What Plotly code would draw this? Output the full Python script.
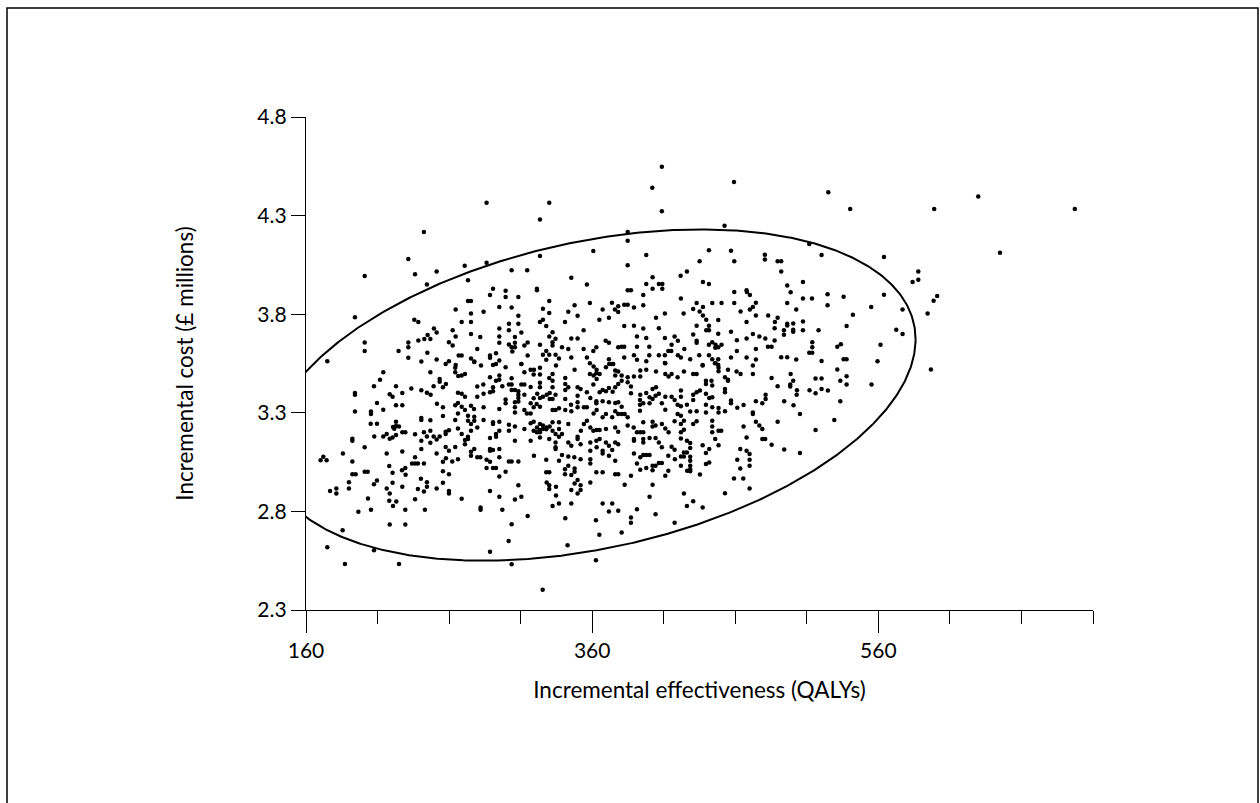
import numpy as np
import plotly.graph_objects as go

# Bootstrap replicates: (incremental effectiveness in QALYs, incremental cost in £ millions)
replicates = [
    [242.4,4.217],[231.5,4.080],[236.2,4.002],[251.3,4.016],[201.0,3.994],[244.5,3.951],[264.6,3.824],[194.2,3.784],
    [235.7,3.772],[238.5,3.760],[249.4,3.728],[251.3,3.707],[245.0,3.694],[242.7,3.674],[246.9,3.674],[238.5,3.667],
    [262.5,3.719],[264.6,3.687],[259.9,3.658],[262.5,3.641],[231.5,3.657],[231.5,3.633],[201.0,3.657],[201.0,3.613],
    [224.7,3.613],[244.8,3.604],[231.5,3.579],[240.6,3.560],[251.3,3.570],[257.6,3.548],[259.9,3.562],[264.6,3.543],
    [266.7,3.591],[174.9,3.562],
    [286.2,4.365],[330.0,4.365],[323.5,4.280],[270.9,4.046],[286.2,4.061],[323.5,4.095],[360.8,4.121],[273.2,3.972],
    [303.7,4.023],[314.6,4.023],[345.4,3.985],[356.3,3.951],[290.7,3.929],[288.6,3.897],[299.5,3.919],[299.5,3.887],
    [308.4,3.887],[321.4,3.929],[321.4,3.921],[273.2,3.867],[275.3,3.867],[330.0,3.867],[347.7,3.845],[358.4,3.857],
    [373.8,3.858],[378.2,3.840],[375.9,3.824],[378.2,3.811],[367.3,3.824],[284.1,3.812],[295.1,3.836],[303.7,3.834],
    [325.6,3.828],[330.0,3.806],[343.3,3.812],[349.8,3.792],[275.3,3.804],[268.8,3.760],[275.3,3.760],[301.8,3.751],
    [308.4,3.792],[308.4,3.751],[323.5,3.760],[325.6,3.772],[327.9,3.740],[341.0,3.760],[365.0,3.772],[371.7,3.782],
    [354.0,3.719],[275.3,3.699],[281.8,3.685],[295.1,3.728],[301.8,3.718],[310.5,3.707],[295.1,3.687],[306.0,3.684],
    [330.0,3.687],[332.3,3.709],[334.4,3.675],[332.3,3.658],[345.4,3.677],[349.8,3.677],[295.1,3.655],[301.8,3.646],
    [306.0,3.655],[303.7,3.633],[306.0,3.633],[314.9,3.657],[312.6,3.641],[323.5,3.645],[332.3,3.641],[338.9,3.633],
    [343.3,3.623],[354.0,3.623],[362.9,3.633],[369.4,3.665],[371.7,3.655],[378.2,3.633],[279.7,3.623],[304.2,3.611],
    [325.6,3.594],[327.9,3.614],[330.0,3.594],[334.4,3.594],[336.8,3.575],[345.4,3.580],[356.3,3.580],[360.8,3.613],
    [288.6,3.591],[288.6,3.579],[292.8,3.602],[295.1,3.565],[275.3,3.575],[277.6,3.560],[314.9,3.591],[327.9,3.569],
    [371.7,3.572],[373.8,3.548],[310.5,3.548],[268.8,3.591],
    [408.7,4.548],[402.0,4.441],[459.1,4.471],[408.7,4.322],[452.5,4.248],[384.8,4.217],[384.8,4.172],[397.8,4.100],
    [441.6,4.124],[457.0,4.122],[480.7,4.102],[480.7,4.077],[489.6,4.068],[384.8,4.048],[435.1,4.068],[459.3,4.068],
    [421.8,3.995],[426.2,4.016],[402.2,3.987],[397.8,3.953],[406.6,3.953],[409.0,3.953],[402.2,3.929],[409.0,3.929],
    [437.4,3.963],[441.6,3.953],[384.8,3.921],[387.1,3.921],[395.7,3.897],[422.0,3.879],[459.3,3.912],[467.9,3.921],
    [468.1,3.912],[470.2,3.897],[382.4,3.848],[384.8,3.848],[389.2,3.834],[395.7,3.846],[433.0,3.857],[437.4,3.836],
    [443.9,3.857],[450.4,3.857],[459.3,3.857],[474.4,3.858],[472.3,3.836],[470.2,3.824],[463.7,3.814],[430.6,3.826],
    [435.1,3.814],[437.4,3.794],[439.7,3.772],[423.9,3.804],[410.8,3.804],[404.6,3.782],[382.4,3.740],[389.2,3.741],
    [395.7,3.728],[406.6,3.729],[433.0,3.741],[441.6,3.741],[439.7,3.718],[441.6,3.718],[448.1,3.770],[467.9,3.760],
    [474.4,3.794],[483.0,3.794],[489.6,3.782],[487.7,3.760],[487.5,3.729],[457.0,3.711],[391.3,3.687],[397.8,3.679],
    [410.8,3.679],[417.6,3.687],[430.6,3.697],[448.1,3.701],[472.3,3.699],[476.8,3.687],[481.0,3.677],[467.9,3.677],
    [461.1,3.668],[433.0,3.665],[433.0,3.655],[419.9,3.665],[415.5,3.645],[443.9,3.658],[446.2,3.645],[441.6,3.645],
    [450.4,3.645],[448.1,3.633],[446.0,3.630],[487.5,3.667],[482.8,3.635],[485.4,3.635],[474.4,3.624],[461.1,3.614],
    [424.4,3.624],[382.4,3.635],[380.6,3.635],[391.3,3.635],[399.9,3.635],[413.2,3.614],[415.3,3.614],[382.4,3.580],
    [389.2,3.592],[399.9,3.592],[406.6,3.592],[410.8,3.592],[419.9,3.592],[422.0,3.580],[428.5,3.572],[434.8,3.592],
    [441.6,3.592],[443.9,3.572],[448.1,3.572],[457.0,3.580],[467.9,3.580],[474.4,3.570],[391.3,3.569],[397.8,3.562],
    [410.8,3.552],[437.2,3.543],[446.2,3.552],[448.1,3.543],
    [525.0,4.419],[540.3,4.334],[599.0,4.334],[511.7,4.156],[520.3,4.100],[563.9,4.090],[492.1,4.068],[492.1,4.016],
    [587.9,4.017],[587.9,3.975],[583.9,3.963],[496.3,3.945],[507.3,3.963],[498.7,3.911],[524.5,3.901],[535.7,3.889],
    [563.9,3.899],[601.1,3.892],[598.6,3.868],[496.3,3.857],[507.3,3.879],[513.6,3.879],[524.5,3.846],[555.0,3.836],
    [502.6,3.824],[576.9,3.824],[594.4,3.804],[542.2,3.797],[496.3,3.751],[500.5,3.753],[496.3,3.743],[507.3,3.763],
    [494.0,3.718],[500.5,3.721],[500.5,3.711],[494.0,3.696],[507.3,3.719],[518.2,3.719],[537.8,3.740],[572.5,3.721],
    [576.9,3.699],[513.8,3.658],[513.8,3.633],[533.8,3.648],[531.3,3.635],[561.5,3.645],[511.7,3.604],[513.8,3.604],
    [492.1,3.582],[496.3,3.582],[502.6,3.570],[520.3,3.563],[535.7,3.572],[537.8,3.572],[559.4,3.562],
    [629.8,4.397],[697.3,4.334],[645.0,4.112],
    [214.0,3.506],[211.7,3.467],[207.5,3.435],[194.2,3.401],[194.2,3.391],[218.5,3.394],[220.5,3.382],[222.9,3.435],
    [227.3,3.401],[233.6,3.423],[240.6,3.414],[244.5,3.402],[247.1,3.391],[246.9,3.506],[253.4,3.472],[253.4,3.458],
    [249.2,3.435],[255.7,3.429],[257.8,3.446],[251.5,3.346],[255.7,3.328],[264.3,3.528],[264.3,3.506],[266.4,3.487],
    [266.2,3.402],[264.3,3.338],[266.2,3.350],[194.2,3.306],[205.4,3.306],[205.4,3.294],[209.6,3.350],[214.0,3.316],
    [222.9,3.338],[227.3,3.338],[205.2,3.245],[209.6,3.245],[222.9,3.255],[222.9,3.233],[220.8,3.228],[225.0,3.230],
    [221.7,3.219],[214.0,3.180],[216.4,3.192],[218.5,3.169],[220.5,3.175],[222.9,3.187],[227.3,3.202],[229.4,3.201],
    [236.2,3.191],[240.6,3.274],[240.6,3.263],[246.9,3.262],[255.7,3.284],[264.3,3.263],[266.2,3.296],[242.4,3.202],
    [244.5,3.180],[246.9,3.209],[249.2,3.180],[257.6,3.204],[259.9,3.211],[257.6,3.192],[253.4,3.180],[266.2,3.221],
    [246.9,3.148],[240.6,3.158],[251.3,3.164],[207.7,3.180],[192.4,3.169],[192.4,3.158],[201.0,3.125],[185.8,3.094],
    [172.1,3.077],[170.2,3.060],[174.4,3.060],[192.4,3.053],[216.4,3.094],[227.3,3.104],[240.6,3.116],[236.2,3.075],
    [234.1,3.043],[236.2,3.043],[238.2,3.043],[242.4,3.043],[218.2,3.030],[220.5,2.996],[227.1,3.009],[229.4,3.020],
    [229.6,2.986],[257.6,3.126],[259.9,3.108],[264.3,3.126],[266.2,3.064],[251.3,3.094],[255.7,3.052],[257.8,3.070],
    [262.2,3.053],[255.7,3.004],[259.9,2.989],[192.4,2.989],[194.7,2.989],[201.0,3.001],[203.1,3.001],[190.0,2.948],
    [190.0,2.916],[207.5,2.938],[209.6,2.957],[220.5,2.945],[227.3,2.925],[216.4,2.916],[218.5,2.891],[240.3,2.965],
    [244.5,2.948],[244.5,2.925],[238.2,2.913],[242.4,2.901],[251.3,2.916],[255.7,2.945],[259.9,2.904],[259.9,2.891],
    [176.8,2.903],[181.2,2.916],[181.2,2.891],[203.3,2.865],[218.2,2.854],[220.8,2.828],[223.1,2.850],[236.2,2.862],
    [205.4,2.809],[196.6,2.798],[229.4,2.809],[243.1,2.809],[218.5,2.733],[229.4,2.733],[185.6,2.704],[174.9,2.618],
    [207.5,2.603],[187.2,2.533],[225.0,2.533],
    [277.6,3.557],[282.3,3.540],[290.7,3.543],[292.8,3.548],[299.5,3.531],[310.5,3.548],[317.0,3.518],[319.3,3.518],
    [323.5,3.528],[334.7,3.540],[358.4,3.551],[361.0,3.535],[363.1,3.518],[369.6,3.531],[371.9,3.548],[374.7,3.548],
    [376.1,3.514],[271.1,3.497],[268.8,3.489],[288.6,3.480],[292.8,3.463],[295.1,3.489],[295.1,3.467],[303.7,3.475],
    [312.6,3.506],[319.1,3.494],[323.5,3.494],[330.0,3.477],[332.3,3.497],[341.2,3.477],[341.2,3.446],[347.7,3.518],
    [358.4,3.497],[361.0,3.489],[362.9,3.501],[365.2,3.497],[363.1,3.472],[376.1,3.489],[378.2,3.509],[279.7,3.433],
    [283.9,3.443],[290.7,3.429],[288.6,3.404],[290.7,3.409],[297.2,3.435],[301.8,3.443],[303.7,3.443],[303.7,3.416],
    [306.0,3.416],[308.4,3.409],[310.5,3.443],[312.6,3.443],[308.4,3.392],[312.6,3.391],[317.0,3.431],[323.5,3.452],
    [323.5,3.429],[332.3,3.463],[332.3,3.429],[330.3,3.401],[328.2,3.392],[343.3,3.429],[341.2,3.416],[349.8,3.387],
    [349.8,3.429],[351.9,3.421],[360.8,3.443],[356.3,3.404],[365.2,3.404],[367.3,3.416],[369.6,3.409],[371.7,3.426],
    [374.3,3.407],[378.2,3.446],[376.1,3.429],[268.8,3.396],[271.1,3.382],[279.7,3.382],[284.1,3.396],[299.5,3.367],
    [299.5,3.348],[306.0,3.353],[308.4,3.357],[308.4,3.375],[323.5,3.375],[321.6,3.396],[319.1,3.374],[317.0,3.348],
    [325.6,3.382],[330.3,3.370],[332.3,3.370],[334.4,3.391],[341.2,3.370],[345.2,3.341],[349.8,3.353],[358.7,3.375],
    [362.9,3.358],[362.9,3.348],[367.3,3.358],[371.7,3.353],[376.1,3.350],[378.2,3.353],[268.8,3.331],[271.1,3.314],
    [275.3,3.336],[277.4,3.319],[284.1,3.328],[295.1,3.319],[306.0,3.328],[306.0,3.302],[312.6,3.314],[314.4,3.297],
    [317.0,3.297],[319.1,3.328],[321.2,3.345],[323.5,3.331],[332.3,3.314],[334.4,3.314],[336.8,3.323],[341.2,3.314],
    [345.4,3.308],[349.8,3.328],[354.2,3.328],[356.3,3.328],[361.0,3.297],[363.1,3.314],[367.3,3.277],[369.6,3.294],
    [374.0,3.277],[376.1,3.308],[378.2,3.294],[273.2,3.285],[273.2,3.260],[277.6,3.280],[277.6,3.260],[275.3,3.243],
    [284.1,3.263],[290.7,3.252],[290.7,3.243],[295.1,3.255],[301.8,3.240],[306.0,3.230],[312.6,3.218],[317.0,3.247],
    [319.1,3.255],[323.5,3.243],[321.4,3.226],[325.6,3.235],[328.2,3.226],[330.3,3.231],[332.3,3.252],[336.8,3.252],
    [343.3,3.243],[336.8,3.218],[332.3,3.209],[327.9,3.216],[323.5,3.213],[321.4,3.201],[323.5,3.201],[325.6,3.218],
    [319.1,3.209],[352.1,3.209],[354.2,3.243],[356.3,3.260],[358.7,3.226],[360.8,3.209],[363.1,3.213],[365.2,3.213],
    [369.6,3.218],[376.1,3.226],[378.2,3.204],[268.8,3.192],[271.1,3.162],[273.2,3.167],[275.3,3.209],[279.7,3.226],
    [273.2,3.179],[271.1,3.141],[277.6,3.116],[275.3,3.103],[275.3,3.082],[288.6,3.172],[292.8,3.192],[292.8,3.179],
    [295.1,3.209],[301.8,3.209],[306.0,3.158],[317.0,3.158],[323.5,3.175],[330.0,3.167],[334.4,3.192],[336.8,3.179],
    [338.9,3.192],[343.3,3.150],[349.8,3.179],[349.8,3.167],[351.9,3.141],[334.4,3.150],[334.4,3.125],[334.4,3.116],
    [338.9,3.086],[343.3,3.079],[345.4,3.133],[347.5,3.074],[351.9,3.065],[358.7,3.150],[362.9,3.158],[365.2,3.167],
    [363.1,3.125],[358.7,3.108],[367.3,3.108],[367.3,3.094],[369.6,3.150],[371.7,3.133],[376.1,3.150],[378.2,3.141],
    [374.0,3.111],[376.1,3.057],[371.7,3.082],[358.7,3.065],[358.7,3.043],[362.9,2.998],[367.3,2.998],[376.1,2.989],
    [378.2,2.989],[279.7,3.074],[281.8,3.074],[286.2,3.062],[288.6,3.116],[288.6,3.108],[290.7,3.111],[295.1,3.116],
    [295.1,3.074],[288.6,3.052],[286.2,3.020],[290.7,3.020],[292.8,3.020],[295.1,2.977],[299.5,3.001],[301.8,3.053],
    [303.7,3.053],[308.4,3.053],[319.3,3.082],[327.9,3.062],[327.9,2.998],[330.0,2.998],[336.8,3.057],[341.0,3.014],
    [341.0,2.989],[345.4,2.984],[347.7,3.018],[347.7,3.001],[343.3,3.031],[328.2,2.947],[330.0,2.933],[330.0,2.913],
    [334.7,2.925],[334.7,2.881],[336.8,2.840],[332.3,2.828],[345.4,2.908],[349.8,2.959],[347.7,2.942],[351.9,2.933],
    [351.9,2.908],[349.8,2.891],[358.7,2.947],[308.4,2.933],[288.6,2.904],[295.1,2.874],[306.0,2.860],[310.5,2.874],
    [268.8,2.864],[282.0,2.820],[282.0,2.809],[297.2,2.809],[314.9,2.777],[341.2,2.765],[345.4,2.840],[362.6,2.755],
    [367.3,2.840],[374.0,2.840],[378.2,2.803],[371.7,2.799],[303.7,2.735],[301.6,2.650],[288.6,2.596],[342.8,2.628],
    [365.0,2.681],[303.7,2.532],[362.6,2.552],[325.4,2.403],
    [380.6,3.489],[384.8,3.480],[380.6,3.463],[389.2,3.484],[393.6,3.514],[393.6,3.484],[397.8,3.518],[404.6,3.509],
    [411.1,3.551],[411.1,3.497],[415.5,3.497],[413.4,3.484],[419.7,3.480],[424.1,3.509],[430.6,3.497],[433.0,3.497],
    [437.2,3.540],[445.8,3.551],[448.3,3.528],[448.3,3.511],[454.9,3.518],[452.8,3.480],[454.9,3.463],[460.9,3.509],
    [463.7,3.497],[472.3,3.540],[472.3,3.497],[485.4,3.477],[489.6,3.435],[387.1,3.433],[384.8,3.455],[387.1,3.399],
    [393.6,3.391],[397.8,3.401],[404.6,3.429],[402.2,3.421],[400.1,3.379],[404.3,3.387],[406.6,3.396],[393.4,3.365],
    [393.4,3.341],[395.7,3.348],[393.4,3.311],[400.1,3.348],[402.2,3.370],[411.1,3.382],[415.5,3.382],[417.6,3.365],
    [408.7,3.348],[411.1,3.316],[422.0,3.413],[422.0,3.382],[419.7,3.341],[422.0,3.333],[426.2,3.341],[430.6,3.391],
    [433.0,3.404],[435.3,3.413],[430.6,3.365],[439.5,3.463],[439.5,3.446],[443.4,3.463],[443.9,3.438],[439.5,3.396],
    [443.9,3.379],[441.8,3.375],[452.8,3.421],[452.8,3.404],[454.9,3.467],[439.5,3.341],[439.5,3.302],[443.9,3.328],
    [448.3,3.324],[448.3,3.302],[452.8,3.308],[457.0,3.362],[457.0,3.348],[461.4,3.326],[465.8,3.340],[474.4,3.358],
    [472.3,3.302],[472.3,3.294],[478.9,3.348],[481.2,3.370],[481.2,3.392],[489.6,3.255],[485.4,3.138],[476.8,3.235],
    [474.4,3.255],[478.9,3.218],[480.9,3.167],[478.9,3.167],[380.6,3.331],[380.6,3.294],[384.8,3.277],[382.7,3.294],
    [389.0,3.226],[384.8,3.235],[395.7,3.252],[402.2,3.255],[404.3,3.235],[408.7,3.243],[411.1,3.221],[413.4,3.201],
    [402.2,3.230],[417.6,3.257],[422.0,3.243],[424.1,3.260],[419.7,3.294],[422.0,3.285],[428.5,3.306],[433.0,3.257],
    [430.6,3.243],[424.1,3.214],[422.0,3.201],[433.0,3.308],[443.9,3.260],[443.9,3.231],[443.9,3.201],[448.3,3.209],
    [450.2,3.209],[446.0,3.167],[448.3,3.136],[441.8,3.116],[437.2,3.136],[439.5,3.096],[465.8,3.231],[467.9,3.175],
    [463.5,3.116],[467.9,3.108],[470.0,3.091],[470.0,3.062],[470.0,3.031],[461.4,3.062],[463.5,3.018],[459.1,2.967],
    [465.6,2.967],[470.0,2.916],[452.8,2.892],[391.3,3.201],[393.6,3.201],[395.7,3.201],[389.2,3.167],[389.2,3.158],
    [395.7,3.167],[395.7,3.150],[400.1,3.172],[404.3,3.172],[406.6,3.150],[408.7,3.125],[415.5,3.128],[417.6,3.113],
    [413.2,3.082],[422.0,3.170],[426.2,3.158],[428.5,3.147],[428.5,3.121],[424.1,3.099],[426.2,3.099],[424.1,3.079],
    [422.0,3.079],[422.0,3.031],[428.5,3.077],[428.5,3.057],[428.5,3.031],[428.5,3.014],[428.5,3.003],[426.4,3.006],
    [417.8,3.065],[413.2,3.006],[411.1,2.981],[408.7,3.045],[406.6,3.045],[404.3,3.031],[402.2,3.031],[402.2,3.009],
    [397.8,3.020],[393.6,3.011],[393.6,3.074],[395.7,3.086],[397.8,3.086],[400.1,3.086],[389.2,3.094],[391.3,3.043],
    [387.1,2.981],[382.7,2.935],[402.2,2.935],[400.1,2.874],[424.1,2.891],[430.6,2.852],[426.2,2.828],[437.2,2.820],
    [435.3,2.987],[441.8,3.048],[439.5,3.040],[404.3,2.786],[417.6,2.743],[391.3,2.811],[387.1,2.769],[387.1,2.743],
    [380.6,2.693],
    [531.3,3.519],[596.7,3.519],[498.7,3.497],[500.5,3.463],[498.4,3.443],[498.4,3.433],[503.1,3.414],[502.9,3.391],
    [511.9,3.414],[516.1,3.399],[516.1,3.474],[520.3,3.474],[520.3,3.421],[524.7,3.413],[533.4,3.463],[537.8,3.485],
    [537.8,3.443],[555.2,3.443],[494.2,3.358],[500.7,3.338],[505.2,3.294],[533.4,3.358],[529.2,3.263],[516.1,3.213],
    [494.2,3.114],[505.2,3.096],
]
incremental_effect = [r[0] for r in replicates]   # QALYs
incremental_cost = [r[1] for r in replicates]     # £ millions

# Confidence ellipse parameters (centre and covariance, in data units)
ellipse_centre = [360.0, 3.39]
ellipse_cov = [[51076.0, 63.8], [63.8, 0.7056]]

x_tick_values = [160, 360, 560]
y_tick_values = [2.3, 2.8, 3.3, 3.8, 4.3, 4.8]

L = np.linalg.cholesky(np.array(ellipse_cov))
theta = np.linspace(0, 2 * np.pi, 721)
circle = np.vstack([np.cos(theta), np.sin(theta)])
ell = L @ circle
ell_x = ellipse_centre[0] + ell[0]
ell_y = ellipse_centre[1] + ell[1]

FONT = "Lato"
TICK_SIZE = 21
TITLE_SIZE = 22.5

fig = go.Figure()
fig.add_trace(go.Scatter(
    x=incremental_effect, y=incremental_cost, mode="markers",
    marker=dict(size=4.5, color="black", line=dict(width=0)),
    showlegend=False, hoverinfo="x+y",
))
fig.add_trace(go.Scatter(
    x=ell_x, y=ell_y, mode="lines",
    line=dict(color="black", width=2),
    showlegend=False, hoverinfo="skip",
))

L_PX, R_PX, T_PX, B_PX = 306, 1093, 117, 610
W, H = 1260, 803

def px_to_paper_x(px):
    return (px - L_PX) / (R_PX - L_PX)

def px_to_paper_y(py):
    return (B_PX - py) / (B_PX - T_PX)

fig.add_shape(type="rect", xref="paper", yref="paper",
              x0=px_to_paper_x(7), x1=px_to_paper_x(1258),
              y0=px_to_paper_y(820), y1=px_to_paper_y(8),
              line=dict(color="black", width=1.5), fillcolor="rgba(0,0,0,0)", layer="below")

fig.update_layout(
    width=W, height=H,
    margin=dict(l=L_PX, r=W - R_PX, t=T_PX, b=H - B_PX, pad=0),
    paper_bgcolor="white", plot_bgcolor="white",
    font=dict(family=FONT, size=TICK_SIZE, color="black"),
    xaxis=dict(
        range=[160, 710], showgrid=False, zeroline=False,
        showline=True, linecolor="black", linewidth=1.3,
        ticks="outside", ticklen=22, tickwidth=1.3, tickcolor="black",
        tickvals=x_tick_values, tickfont=dict(size=TICK_SIZE),
        minor=dict(tick0=160, dtick=50, ticks="outside", ticklen=13, tickwidth=1.3, tickcolor="black"),
        title=dict(text="Incremental effectiveness (QALYs)", font=dict(size=TITLE_SIZE), standoff=20),
    ),
    yaxis=dict(
        range=[2.3, 4.8], showgrid=False, zeroline=False,
        showline=True, linecolor="black", linewidth=1.3,
        ticks="outside", ticklen=14, tickwidth=1.3, tickcolor="black",
        tickvals=y_tick_values, tickformat=".1f", tickfont=dict(size=TICK_SIZE),
        title=dict(text="Incremental cost (£ millions)", font=dict(size=TITLE_SIZE), standoff=57),
    ),
)

fig.write_html("out.html")
